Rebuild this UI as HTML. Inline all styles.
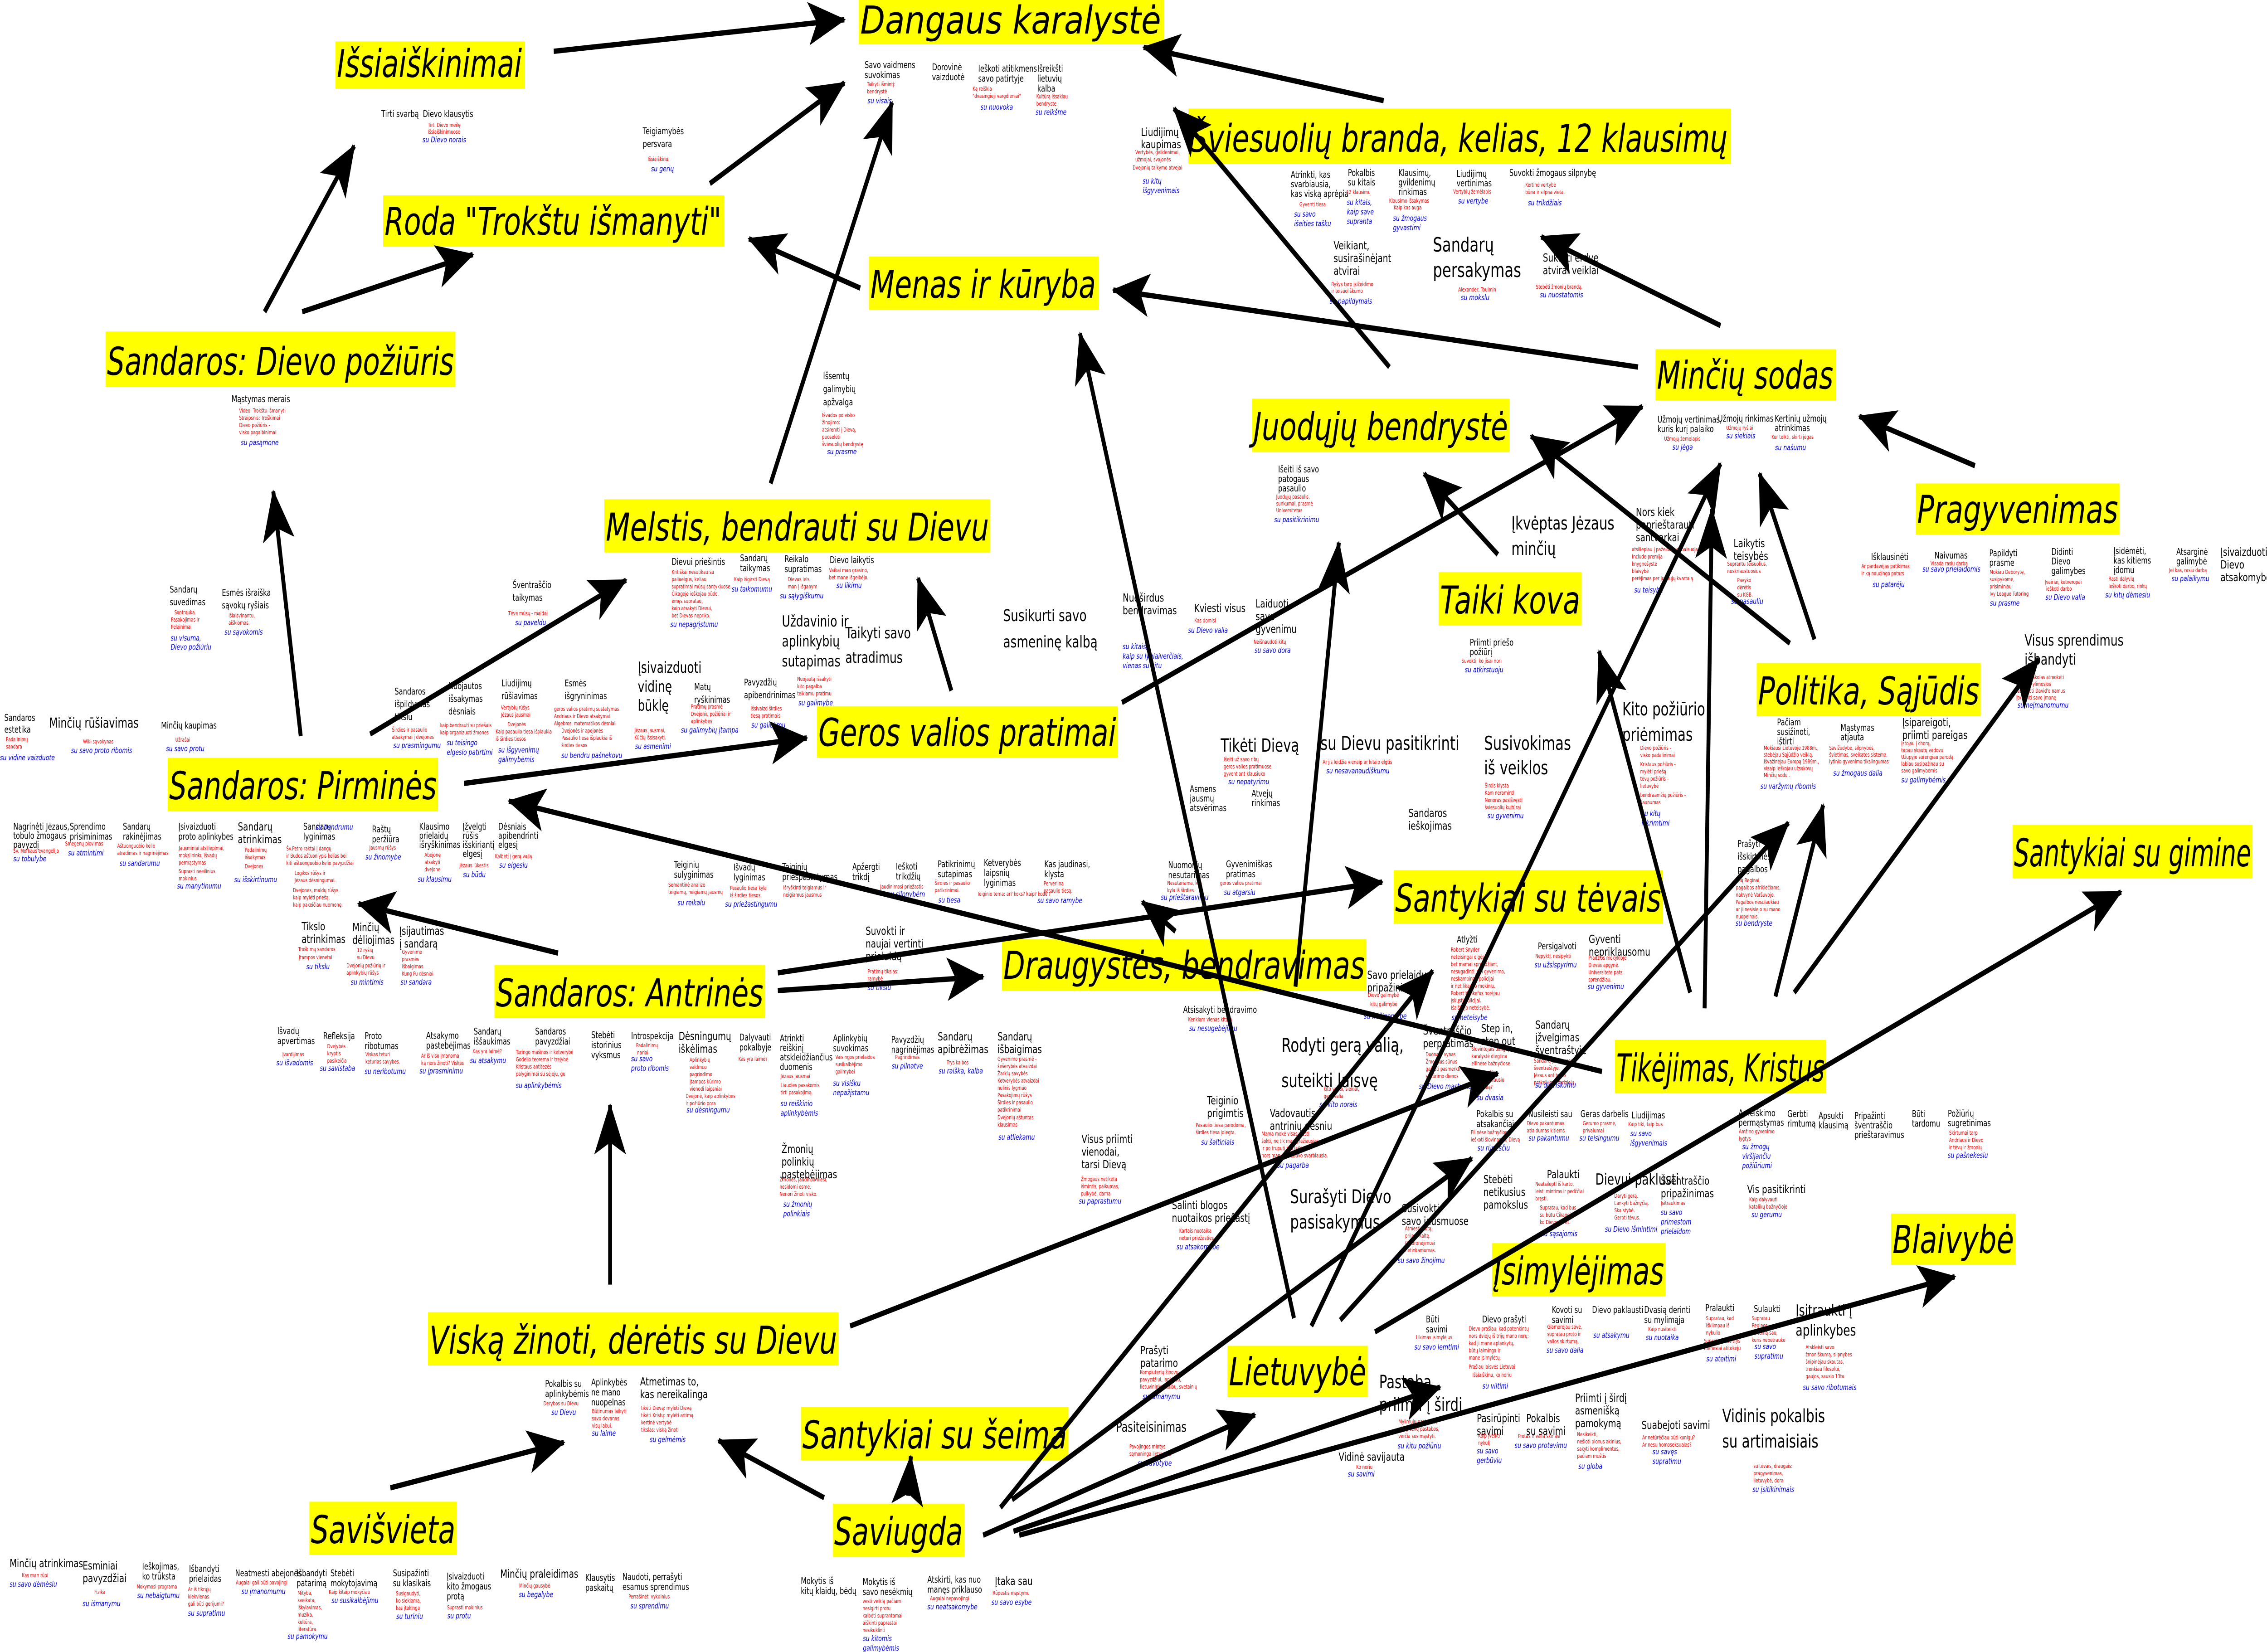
<!DOCTYPE html>
<html><head><meta charset="utf-8">
<style>
html,body{margin:0;padding:0;background:#fff;width:100%;height:100%;overflow:hidden}
svg{display:block;width:100vw;height:100vh}
text{font-family:"DejaVu Sans","Liberation Sans",sans-serif}
.b{font-size:20px;fill:#000}
.m{font-size:25px;fill:#000}
.L{font-size:40px;fill:#000}
.r{font-size:12px;fill:#f00}
.u{font-size:17px;fill:#00f;font-style:italic}
</style></head><body>
<svg viewBox="0 0 6825 3644" preserveAspectRatio="none" xmlns="http://www.w3.org/2000/svg">
<rect width="6825" height="3644" fill="#fff"/>

<g>
<text class="b" x="2603" y="150"><tspan>Savo vaidmens</tspan><tspan x="2603" dy="22">suvokimas</tspan></text>
<text class="r" x="2610" y="190"><tspan>Taikyti išmintį:</tspan><tspan x="2610" dy="16">bendrystė</tspan></text>
<text class="u" x="2612" y="228">su visais</text>
<text class="b" x="2806" y="155"><tspan>Dorovinė</tspan><tspan x="2806" dy="22">vaizduotė</tspan></text>
<text class="b" x="2945" y="158"><tspan>Ieškoti atitikmens</tspan><tspan x="2945" dy="22">savo patirtyje</tspan></text>
<text class="r" x="2928" y="200"><tspan>Ką reiškia</tspan><tspan x="2928" dy="16">"dvasingieji vargdieniai"</tspan></text>
<text class="u" x="2952" y="242">su nuovoka</text>
<text class="b" x="3123" y="158"><tspan>Išreikšti</tspan><tspan x="3123" dy="22">lietuvių</tspan><tspan x="3123" dy="22">kalba</tspan></text>
<text class="r" x="3120" y="217"><tspan>Kultūrą išsakiau</tspan><tspan x="3120" dy="16">bendryste.</tspan></text>
<text class="u" x="3118" y="253">su reikšme</text>
<text class="m" x="3435" y="300"><tspan>Liudijimų</tspan><tspan x="3435" dy="27">kaupimas</tspan></text>
<text class="r" x="3418" y="340"><tspan>Vertybės, gvildenimai,</tspan><tspan x="3418" dy="16">užmojai, svajonės</tspan><tspan x="3410" dy="18">Dvejonių taikymo atvejai</tspan></text>
<text class="u" x="3440" y="405"><tspan>su kitų</tspan><tspan x="3440" dy="21">išgyvenimais</tspan></text>

<text class="b" x="1148" y="258">Tirti svarbą</text>
<text class="b" x="1273" y="258">Dievo klausytis</text>
<text class="r" x="1288" y="280"><tspan>Tirti Dievo meilę</tspan><tspan x="1288" dy="15">Išsiaiškinimuose</tspan></text>
<text class="u" x="1272" y="314">su Dievo norais</text>
<text class="b" x="1935" y="296"><tspan>Teigiamybės</tspan><tspan x="1935" dy="28">persvara</tspan></text>
<text class="r" x="1950" y="355">Išsiaiškinu.</text>
<text class="u" x="1960" y="378">su gerių</text>
<text class="b" x="697" y="887">Mąstymas merais</text>
<text class="r" x="720" y="910"><tspan>Video: Trokštu išmanyti</tspan><tspan x="720" dy="16">Straipsnis: Troškimai</tspan><tspan x="720" dy="16">Dievo požiūris -</tspan><tspan x="720" dy="16">visko pagalbinimai</tspan></text>
<text class="u" x="725" y="982">su pasąmone</text>
<text class="b" x="2478" y="836"><tspan>Išsemtų</tspan><tspan x="2478" dy="29">galimybių</tspan><tspan x="2478" dy="29">apžvalga</tspan></text>
<text class="r" x="2475" y="920"><tspan>Išvados po visko</tspan><tspan x="2475" dy="16">žinojimo:</tspan><tspan x="2475" dy="16">atsiremti į Dievą,</tspan><tspan x="2475" dy="16">puoselėti</tspan><tspan x="2475" dy="16">šviesuolių bendrystę</tspan></text>
<text class="u" x="2490" y="1002">su prasme</text>

<text class="b" x="511" y="1307"><tspan>Sandarų</tspan><tspan x="511" dy="28">suvedimas</tspan></text>
<text class="r" x="525" y="1355"><tspan>Santrauka</tspan><tspan x="515" dy="16">Pasakojimas ir</tspan><tspan x="515" dy="16">Pelainimai</tspan></text>
<text class="u" x="514" y="1413"><tspan>su visuma,</tspan><tspan x="514" dy="20">Dievo požiūriu</tspan></text>
<text class="b" x="668" y="1314"><tspan>Esmės išraiška</tspan><tspan x="668" dy="28">sąvokų ryšiais</tspan></text>
<text class="r" x="688" y="1362"><tspan>Išlaisvinantu,</tspan><tspan x="688" dy="16">aiškiomas.</tspan></text>
<text class="u" x="676" y="1400">su sąvokomis</text>
<text class="b" x="1543" y="1297"><tspan>Šventraščio</tspan><tspan x="1543" dy="28">taikymas</tspan></text>
<text class="r" x="1530" y="1357">Tėve mūsų - maldai</text>
<text class="u" x="1551" y="1379">su paveldu</text>
<text class="b" x="2022" y="1246">Dievui priešintis</text>
<text class="r" x="2022" y="1266"><tspan>Kritiškai nesutikau su</tspan><tspan x="2022" dy="16">paliaeigus, kėliau</tspan><tspan x="2022" dy="16">supratimai mūsų santykiuose.</tspan><tspan x="2022" dy="16">Čikagoje ieškojau būdo,</tspan><tspan x="2022" dy="16">ėmęs supratau,</tspan><tspan x="2022" dy="16">kaip atsakyti Dievui,</tspan><tspan x="2022" dy="16">bet Dievas nepriko.</tspan></text>
<text class="u" x="2018" y="1383">su nepagrįstumu</text>
<text class="b" x="2228" y="1238"><tspan>Sandarų</tspan><tspan x="2228" dy="22">taikymas</tspan></text>
<text class="r" x="2210" y="1282">Kaip išgirsti Dievą</text>
<text class="u" x="2203" y="1305">su taikomumu</text>
<text class="b" x="2362" y="1240"><tspan>Reikalo</tspan><tspan x="2362" dy="22">supratimas</tspan></text>
<text class="r" x="2372" y="1282"><tspan>Dievas iels</tspan><tspan x="2372" dy="16">man į išganym</tspan></text>
<text class="u" x="2348" y="1320">su sąlygiškumu</text>
<text class="b" x="2498" y="1242">Dievo laikytis</text>
<text class="r" x="2496" y="1262"><tspan>Vaikai man grasino,</tspan><tspan x="2496" dy="16">bet mane išgelbėjo.</tspan></text>
<text class="u" x="2518" y="1297">su likimu</text>
<text class="L" x="2354" y="1382" style="font-size:34px"><tspan>Uždavinio ir</tspan><tspan x="2354" dy="44">aplinkybių</tspan><tspan x="2354" dy="44">sutapimas</tspan></text>
<text class="L" x="2545" y="1408" style="font-size:34px"><tspan>Taikyti savo</tspan><tspan x="2545" dy="54">atradimus</tspan></text>
<text class="L" x="3020" y="1370" style="font-size:36px"><tspan>Susikurti savo</tspan><tspan x="3020" dy="58">asmeninę kalbą</tspan></text>
<text class="L" x="1920" y="1484" style="font-size:34px"><tspan>Įsivaizduoti</tspan><tspan x="1920" dy="42">vidinę</tspan><tspan x="1920" dy="42">būklę</tspan></text>
<text class="r" x="1910" y="1615"><tspan>Jėzaus jausmai,</tspan><tspan x="1910" dy="16">Kūčių išsisakyti.</tspan></text>
<text class="u" x="1912" y="1652">su asmenimi</text>
<text class="b" x="2090" y="1522"><tspan>Matų</tspan><tspan x="2090" dy="28">ryškinimas</tspan></text>
<text class="r" x="2080" y="1563"><tspan>Pratimų prasmė</tspan><tspan x="2080" dy="16">Dvejonių požiūriai ir</tspan><tspan x="2080" dy="16">aplinkybės</tspan></text>
<text class="u" x="2050" y="1616">su galimybių įtampa</text>
<text class="b" x="2240" y="1512"><tspan>Pavyzdžių</tspan><tspan x="2240" dy="28">apibendrinimas</tspan></text>
<text class="r" x="2260" y="1567"><tspan>Išsivaizd širdies</tspan><tspan x="2260" dy="16">tiesą pratimais</tspan></text>
<text class="u" x="2262" y="1605">su galiojimu</text>
<text class="r" x="2400" y="1502"><tspan>Nuojautą išsakyti</tspan><tspan x="2400" dy="16">kito pagalba</tspan><tspan x="2400" dy="16">teikiamu pratimu</tspan></text>
<text class="u" x="2404" y="1556">su galimybe</text>

<text class="b" x="13" y="1590"><tspan>Sandaros</tspan><tspan x="13" dy="26">estetika</tspan></text>
<text class="r" x="18" y="1635"><tspan>Padalinimų</tspan><tspan x="18" dy="16">sandara</tspan></text>
<text class="u" x="0" y="1677">su vidine vaizduote</text>
<text class="m" x="148" y="1605" style="font-size:30px">Minčių rūšiavimas</text>
<text class="r" x="250" y="1640">Wiki sąvokynas</text>
<text class="u" x="214" y="1661">su savo proto ribomis</text>
<text class="b" x="485" y="1607">Minčių kaupimas</text>
<text class="r" x="528" y="1636">Užrašai</text>
<text class="u" x="500" y="1657">su savo protu</text>
<text class="b" x="1188" y="1532"><tspan>Sandaros</tspan><tspan x="1188" dy="28">išpildymas</tspan><tspan x="1188" dy="28">tikslu</tspan></text>
<text class="r" x="1180" y="1614"><tspan>Širdies ir pasaulio</tspan><tspan x="1180" dy="16">atsakymai į dvejones</tspan></text>
<text class="u" x="1184" y="1650">su prasmingumu</text>
<text class="b" x="1350" y="1520"><tspan>Nuojautos</tspan><tspan x="1350" dy="28">išsakymas</tspan><tspan x="1350" dy="28">dėsniais</tspan></text>
<text class="r" x="1325" y="1604"><tspan>kaip bendrauti su priešais</tspan><tspan x="1325" dy="16">kaip organizuoti žmones</tspan></text>
<text class="u" x="1345" y="1644"><tspan>su teisingo</tspan><tspan x="1345" dy="21">elgesio patirtimi</tspan></text>
<text class="b" x="1510" y="1514"><tspan>Liudijimų</tspan><tspan x="1510" dy="28">rūšiavimas</tspan></text>
<text class="r" x="1508" y="1565"><tspan>Vertybių rūšys</tspan><tspan x="1508" dy="16">Jėzaus jausmai</tspan><tspan x="1528" dy="21">Dvejonės</tspan><tspan x="1492" dy="16">Kaip pasaulio tiesa išplaukia</tspan><tspan x="1492" dy="16">iš širdies tiesos</tspan></text>
<text class="u" x="1500" y="1660"><tspan>su išgyvenimų</tspan><tspan x="1500" dy="21">galimybėmis</tspan></text>
<text class="b" x="1700" y="1514"><tspan>Esmės</tspan><tspan x="1700" dy="28">išgryninimas</tspan></text>
<text class="r" x="1668" y="1568"><tspan>geros valios pratimų sustatymas</tspan><tspan x="1668" dy="16">Andriaus ir Dievo atsakymai</tspan><tspan x="1668" dy="16">Algebros, matematikos dėsniai</tspan><tspan x="1690" dy="16">Dvejonės ir apejonės</tspan><tspan x="1690" dy="16">Pasaulio tiesa išplaukia iš</tspan><tspan x="1690" dy="16">širdies tiesos</tspan></text>
<text class="u" x="1690" y="1672">su bendru pašnekovu</text>

<text class="b" x="40" y="1830"><tspan>Nagrinėti Jėzaus,</tspan><tspan x="40" dy="20">tobulo žmogaus</tspan><tspan x="40" dy="20">pavyzdį</tspan></text>
<text class="r" x="40" y="1881">Šv. Morkaus evangelija</text>
<text class="u" x="40" y="1900">su tobulybe</text>
<text class="b" x="210" y="1830"><tspan>Sprendimo</tspan><tspan x="210" dy="22">prisiminimas</tspan></text>
<text class="r" x="196" y="1865">Smegenų plovimas</text>
<text class="u" x="205" y="1887">su atmintimi</text>
<text class="b" x="370" y="1830"><tspan>Sandarų</tspan><tspan x="370" dy="22">rakinėjimas</tspan></text>
<text class="r" x="353" y="1870"><tspan>Aštuonguobio kelio</tspan><tspan x="353" dy="16">atradimas ir nagrinėjimas</tspan></text>
<text class="u" x="360" y="1910">su sandarumu</text>
<text class="b" x="537" y="1830"><tspan>Įsivaizduoti</tspan><tspan x="537" dy="22">proto aplinkybes</tspan></text>
<text class="r" x="538" y="1875"><tspan>Jausminiai atsiliepimai,</tspan><tspan x="538" dy="16">mokslininkų išvadų</tspan><tspan x="538" dy="16">permąstymas</tspan><tspan x="538" dy="19">Suprasti neeilinius</tspan><tspan x="538" dy="16">mokinius</tspan></text>
<text class="u" x="533" y="1960">su manytinumu</text>
<text class="m" x="716" y="1832"><tspan>Sandarų</tspan><tspan x="716" dy="28">atrinkimas</tspan></text>
<text class="r" x="737" y="1879"><tspan>Padalinimų</tspan><tspan x="737" dy="16">išsakymas</tspan><tspan x="737" dy="20">Dvejonės</tspan></text>
<text class="u" x="705" y="1946">su išskirtinumu</text>
<text class="b" x="913" y="1830"><tspan>Sandarų</tspan><tspan x="913" dy="22">lyginimas</tspan></text>
<text class="u" x="950" y="1830">su bendrumu</text>
<text class="r" x="862" y="1876"><tspan>Šv.Petro raktai į dangų</tspan><tspan x="862" dy="16">ir Budos aštuonlypis kelias bei</tspan><tspan x="862" dy="16">kiti aštuonguobio kelio pavyzdžiai</tspan><tspan x="887" dy="22">Logikos rūšys ir</tspan><tspan x="887" dy="16">Jėzaus dėsningumai.</tspan><tspan x="882" dy="22">Dvejonės, maldų rūšys,</tspan><tspan x="882" dy="16">kaip mylėti priešą,</tspan><tspan x="882" dy="16">kaip pakeičiau nuomonę.</tspan></text>
<text class="b" x="1120" y="1836"><tspan>Raštų</tspan><tspan x="1120" dy="22">peržiūra</tspan></text>
<text class="r" x="1112" y="1874">Jausmų rūšys</text>
<text class="u" x="1100" y="1896">su žinomybe</text>
<text class="b" x="1262" y="1830"><tspan>Klausimo</tspan><tspan x="1262" dy="20">prielaidų</tspan><tspan x="1262" dy="20">išryškinimas</tspan></text>
<text class="r" x="1278" y="1890"><tspan>Abejonę</tspan><tspan x="1278" dy="16">atsakyti</tspan><tspan x="1278" dy="16">dvejone</tspan></text>
<text class="u" x="1258" y="1945">su klausimu</text>
<text class="b" x="1393" y="1830"><tspan>Įžvelgti</tspan><tspan x="1393" dy="20">rūšis</tspan><tspan x="1393" dy="20">išskiriantį</tspan><tspan x="1393" dy="20">elgesį</tspan></text>
<text class="r" x="1383" y="1913">Jėzaus lūkestis</text>
<text class="u" x="1394" y="1935">su būdu</text>
<text class="b" x="1500" y="1830"><tspan>Dėsniais</tspan><tspan x="1500" dy="20">apibendrinti</tspan><tspan x="1500" dy="20">elgesį</tspan></text>
<text class="r" x="1490" y="1893">Kalbėti į gerą valią</text>
<text class="u" x="1503" y="1914">su elgesiu</text>
<text class="m" x="908" y="2052"><tspan>Tikslo</tspan><tspan x="908" dy="28">atrinkimas</tspan></text>
<text class="r" x="898" y="2098"><tspan>Troškimų sandaros</tspan><tspan x="900" dy="18">Įtampos vienetai</tspan></text>
<text class="u" x="922" y="2138">su tikslu</text>
<text class="m" x="1061" y="2054"><tspan>Minčių</tspan><tspan x="1061" dy="28">dėliojimas</tspan></text>
<text class="r" x="1075" y="2100"><tspan>12 ryšių</tspan><tspan x="1075" dy="16">su Dievu</tspan><tspan x="1043" dy="18">Dvejonių požiūrių ir</tspan><tspan x="1043" dy="16">aplinkybių rūšys</tspan></text>
<text class="u" x="1056" y="2172">su mintimis</text>
<text class="m" x="1202" y="2062"><tspan>Įsijautimas</tspan><tspan x="1202" dy="28">į sandarą</tspan></text>
<text class="r" x="1210" y="2104"><tspan>Gyvenimo</tspan><tspan x="1210" dy="16">prasmės</tspan><tspan x="1210" dy="16">išbaigimas</tspan><tspan x="1210" dy="16">Kung Fu dėsniai</tspan></text>
<text class="u" x="1206" y="2172">su sandara</text>

<text class="b" x="835" y="2281"><tspan>Išvadų</tspan><tspan x="835" dy="22">apvertimas</tspan></text>
<text class="r" x="850" y="2330">Įvardijimas</text>
<text class="u" x="832" y="2350">su išvadomis</text>
<text class="b" x="973" y="2292">Refleksija</text>
<text class="r" x="985" y="2312"><tspan>Dvejybės</tspan><tspan x="985" dy="16">kryptis</tspan><tspan x="985" dy="16">pasikeičia</tspan></text>
<text class="u" x="963" y="2362">su savistaba</text>
<text class="b" x="1098" y="2292"><tspan>Proto</tspan><tspan x="1098" dy="22">ribotumas</tspan></text>
<text class="r" x="1100" y="2330"><tspan>Viskas teturi</tspan><tspan x="1100" dy="16">keturias savybes.</tspan></text>
<text class="u" x="1098" y="2369">su neribotumu</text>
<text class="b" x="1283" y="2291"><tspan>Atsakymo</tspan><tspan x="1283" dy="22">pastebėjimas</tspan></text>
<text class="r" x="1268" y="2333"><tspan>Ar iš viso įmanoma</tspan><tspan x="1268" dy="16">ką nors žinoti? Viskas</tspan></text>
<text class="u" x="1263" y="2368">su įprasminimu</text>
<text class="b" x="1426" y="2282"><tspan>Sandarų</tspan><tspan x="1426" dy="22">iššaukimas</tspan></text>
<text class="r" x="1423" y="2323">Kas yra laimė?</text>
<text class="u" x="1415" y="2345">su atsakymu</text>
<text class="b" x="1611" y="2282"><tspan>Sandaros</tspan><tspan x="1611" dy="22">pavyzdžiai</tspan></text>
<text class="r" x="1553" y="2325"><tspan>Turingo mašinos ir ketverybė</tspan><tspan x="1553" dy="16">Godelio teorema ir trejybė</tspan><tspan x="1553" dy="16">Kristaus antitezės</tspan><tspan x="1553" dy="16">palyginimai su sėjėju, gu</tspan></text>
<text class="u" x="1553" y="2400">su aplinkybėmis</text>

<text class="b" x="1780" y="2290"><tspan>Stebėti</tspan><tspan x="1780" dy="22">istorinius</tspan><tspan x="1780" dy="22">vyksmus</tspan></text>
<text class="b" x="1900" y="2292">Introspekcija</text>
<text class="r" x="1915" y="2310"><tspan>Padalinimų</tspan><tspan x="1918" dy="16">nariai</tspan></text>
<text class="u" x="1900" y="2341"><tspan>su  savo</tspan><tspan x="1900" dy="21">proto ribomis</tspan></text>
<text class="m" x="2043" y="2294"><tspan>Dėsningumų</tspan><tspan x="2043" dy="28">iškėlimas</tspan></text>
<text class="r" x="2076" y="2342"><tspan>Aplinkybių</tspan><tspan x="2076" dy="16">valdmuo</tspan><tspan x="2076" dy="16">pagrindimo</tspan><tspan x="2076" dy="16">įtampos kūrimo</tspan><tspan x="2076" dy="16">vienodi laipsniai</tspan><tspan x="2064" dy="16">Dvėjonė, kaip aplinkybės</tspan><tspan x="2064" dy="16">ir požiūrio pora</tspan></text>
<text class="u" x="2067" y="2454">su dėsningumu</text>
<text class="b" x="2226" y="2295"><tspan>Dalyvauti</tspan><tspan x="2226" dy="22">pokalbyje</tspan></text>
<text class="r" x="2223" y="2340">Kas yra laimė?</text>
<text class="b" x="2348" y="2297"><tspan>Atrinkti</tspan><tspan x="2348" dy="21">reiškinį</tspan><tspan x="2348" dy="21">atskleidžiančius</tspan><tspan x="2348" dy="21">duomenis</tspan></text>
<text class="r" x="2350" y="2378"><tspan>Jėzaus jausmai</tspan><tspan x="2350" dy="20">Liaudies pasakomis</tspan><tspan x="2350" dy="16">tirti pasakojimą.</tspan></text>
<text class="u" x="2350" y="2440"><tspan>su reiškinio</tspan><tspan x="2350" dy="21">aplinkybėmis</tspan></text>
<text class="b" x="2508" y="2297"><tspan>Aplinkybių</tspan><tspan x="2508" dy="22">suvokimas</tspan></text>
<text class="r" x="2515" y="2336"><tspan>Vaisingos prielaidos</tspan><tspan x="2515" dy="16">susikalbėjimo</tspan><tspan x="2515" dy="16">galimybei</tspan></text>
<text class="u" x="2508" y="2395"><tspan>su visišku</tspan><tspan x="2508" dy="21">nepažįstamu</tspan></text>
<text class="b" x="2683" y="2300"><tspan>Pavyzdžių</tspan><tspan x="2683" dy="22">nagrinėjimas</tspan></text>
<text class="r" x="2695" y="2336">Pagrindimas</text>
<text class="u" x="2685" y="2357">su pilnatve</text>
<text class="m" x="2823" y="2295"><tspan>Sandarų</tspan><tspan x="2823" dy="28">apibrėžimas</tspan></text>
<text class="r" x="2850" y="2348">Trys kalbos</text>
<text class="u" x="2826" y="2368">su raiška, kalba</text>
<text class="m" x="3003" y="2295"><tspan>Sandarų</tspan><tspan x="3003" dy="28">išbaigimas</tspan></text>
<text class="r" x="3003" y="2340"><tspan>Gyvenimo prasmė -</tspan><tspan x="3003" dy="16">šešerybės atvaizdai</tspan><tspan x="3003" dy="16">Žarklų savybės</tspan><tspan x="3003" dy="16">Ketverybės atvaizdai</tspan><tspan x="3003" dy="16">nulinis lygmuo</tspan><tspan x="3003" dy="16">Pasakojimų rūšys</tspan><tspan x="3003" dy="16">Širdies ir pasaulio</tspan><tspan x="3003" dy="16">patikrinimai</tspan><tspan x="3003" dy="17">Dvejonių aštuntas</tspan><tspan x="3003" dy="16">klausimas</tspan></text>
<text class="u" x="3006" y="2514">su atliekamu</text>
<text class="m" x="2353" y="2543"><tspan>Žmonių</tspan><tspan x="2353" dy="28">polinkių</tspan><tspan x="2353" dy="28">pastebėjimas</tspan></text>
<text class="r" x="2347" y="2606"><tspan>Žmonės, jaudindamiesi,</tspan><tspan x="2347" dy="16">nesidomi esme.</tspan><tspan x="2347" dy="16">Nenori žinoti visko.</tspan></text>
<text class="u" x="2358" y="2662"><tspan>su žmonių</tspan><tspan x="2358" dy="21">polinkiais</tspan></text>

<text class="b" x="2029" y="1914"><tspan>Teiginių</tspan><tspan x="2029" dy="22">sulyginimas</tspan></text>
<text class="r" x="2012" y="1956"><tspan>Semantinė analizė</tspan><tspan x="2012" dy="16">teigiamų, neigiamų jausmų</tspan></text>
<text class="u" x="2040" y="1997">su reikalu</text>
<text class="b" x="2208" y="1920"><tspan>Išvadų</tspan><tspan x="2208" dy="22">lyginimas</tspan></text>
<text class="r" x="2198" y="1963"><tspan>Pasaulio tiesa kyla</tspan><tspan x="2198" dy="16">iš širdies tiesos</tspan></text>
<text class="u" x="2183" y="2000">su priežastingumu</text>
<text class="b" x="2355" y="1919"><tspan>Teiginių</tspan><tspan x="2355" dy="22">priespastatymas</tspan></text>
<text class="r" x="2358" y="1962"><tspan>Išryškinti teigiamus ir</tspan><tspan x="2358" dy="16">neigiamus jausmus</tspan></text>
<text class="b" x="2566" y="1919"><tspan>Apžergti</tspan><tspan x="2566" dy="22">trikdį</tspan></text>
<text class="b" x="2697" y="1918"><tspan>Ieškoti</tspan><tspan x="2697" dy="22">trikdžių</tspan></text>
<text class="r" x="2650" y="1960">Jaudinimosi priežastis</text>
<text class="u" x="2672" y="1978">su silpnybėm</text>
<text class="b" x="2823" y="1913"><tspan>Patikrinimų</tspan><tspan x="2823" dy="22">sutapimas</tspan></text>
<text class="r" x="2814" y="1952"><tspan>Širdies ir pasaulio</tspan><tspan x="2814" dy="16">patikrinimai.</tspan></text>
<text class="u" x="2825" y="1991">su tiesa</text>
<text class="b" x="2962" y="1910"><tspan>Ketverybės</tspan><tspan x="2962" dy="22">laipsnių</tspan><tspan x="2962" dy="22">lyginimas</tspan></text>
<text class="r" x="2942" y="1976">Teiginio tema: ar? koks? kaip? kodėl?</text>
<text class="b" x="3144" y="1913"><tspan>Kas jaudinasi,</tspan><tspan x="3144" dy="22">klysta</tspan></text>
<text class="r" x="3142" y="1953"><tspan>Perverlina</tspan><tspan x="3142" dy="16">pasaulio tiesą.</tspan></text>
<text class="u" x="3123" y="1992">su savo ramybe</text>
<text class="m" x="2606" y="2062"><tspan>Suvokti ir</tspan><tspan x="2606" dy="28">naujai vertinti</tspan><tspan x="2606" dy="28">prielaidą</tspan></text>
<text class="r" x="2612" y="2147"><tspan>Pratimų tikslas:</tspan><tspan x="2612" dy="16">ramybė</tspan></text>
<text class="u" x="2612" y="2184">su tikslu</text>
<text class="m" x="3256" y="2521"><tspan>Visus priimti</tspan><tspan x="3256" dy="28">vienodai,</tspan><tspan x="3256" dy="28">tarsi Dievą</tspan></text>
<text class="r" x="3254" y="2605"><tspan>Žmogaus netikėta</tspan><tspan x="3254" dy="16">išmintis, paikumas,</tspan><tspan x="3254" dy="16">puikybė, darna</tspan></text>
<text class="u" x="3248" y="2655">su paprastumu</text>

<text class="b" x="1641" y="3059"><tspan>Pokalbis su</tspan><tspan x="1641" dy="22">aplinkybėmis</tspan></text>
<text class="r" x="1636" y="3100">Derybos su Dievu</text>
<text class="u" x="1660" y="3121">su Dievu</text>
<text class="b" x="1780" y="3056"><tspan>Aplinkybės</tspan><tspan x="1780" dy="22">ne mano</tspan><tspan x="1780" dy="22">nuopelnas</tspan></text>
<text class="r" x="1782" y="3117"><tspan>Būtinumas laikyti</tspan><tspan x="1782" dy="16">savo dovanas</tspan><tspan x="1782" dy="16">visų labui.</tspan></text>
<text class="u" x="1782" y="3167">su laime</text>
<text class="m" x="1927" y="3056"><tspan>Atmetimas to,</tspan><tspan x="1927" dy="28">kas nereikalinga</tspan></text>
<text class="r" x="1930" y="3110"><tspan>tikėti Dievą: mylėti Dievą</tspan><tspan x="1930" dy="16">tikėti Kristų: mylėti artimą</tspan><tspan x="1930" dy="16">kertinė vertybė</tspan><tspan x="1930" dy="16">tikslas: viską žinoti</tspan></text>
<text class="u" x="1956" y="3181">su gelmėmis</text>

<text class="m" x="29" y="3457">Minčių atrinkimas</text>
<text class="r" x="66" y="3479">Kas man rūpi</text>
<text class="u" x="29" y="3500">su savo dėmėsiu</text>
<text class="m" x="249" y="3462"><tspan>Esminiai</tspan><tspan x="249" dy="28">pavyzdžiai</tspan></text>
<text class="r" x="284" y="3516">Fizika</text>
<text class="u" x="249" y="3543">su išmanymu</text>
<text class="b" x="428" y="3462"><tspan>Ieškojimas,</tspan><tspan x="428" dy="22">ko trūksta</tspan></text>
<text class="r" x="411" y="3504">Mokymosi programa</text>
<text class="u" x="413" y="3525">su nebaigtumu</text>
<text class="b" x="569" y="3467"><tspan>Išbandyti</tspan><tspan x="569" dy="22">prielaidas</tspan></text>
<text class="r" x="566" y="3510"><tspan>Ar iš tikrųjų</tspan><tspan x="566" dy="16">kiekvienas</tspan><tspan x="566" dy="16">gali būti gerijumi?</tspan></text>
<text class="u" x="566" y="3564">su supratimu</text>
<text class="b" x="708" y="3477">Neatmesti abejonės</text>
<text class="r" x="710" y="3495">Augalai gali būti pavojingi</text>
<text class="u" x="727" y="3516">su įmanomumu</text>
<text class="b" x="893" y="3477"><tspan>Išbandyti</tspan><tspan x="893" dy="22">patarimą</tspan></text>
<text class="r" x="896" y="3518"><tspan>Mityba,</tspan><tspan x="896" dy="16">sveikata,</tspan><tspan x="896" dy="16">iškylavimas,</tspan><tspan x="896" dy="16">muzika,</tspan><tspan x="896" dy="16">kultūra,</tspan><tspan x="896" dy="16">literatūra</tspan></text>
<text class="u" x="866" y="3615">su pamokymu</text>
<text class="b" x="995" y="3477"><tspan>Stebėti</tspan><tspan x="995" dy="22">mokytojavimą</tspan></text>
<text class="r" x="990" y="3516">Kaip kitaip mokyčiau</text>
<text class="u" x="998" y="3536">su susikalbėjimu</text>
<text class="b" x="1183" y="3477"><tspan>Susipažinti</tspan><tspan x="1183" dy="22">su klasikais</tspan></text>
<text class="r" x="1192" y="3519"><tspan>Susigaudyti,</tspan><tspan x="1192" dy="16">ko siekiama,</tspan><tspan x="1192" dy="16">kas įtakinga</tspan></text>
<text class="u" x="1193" y="3571">su turiniu</text>
<text class="b" x="1345" y="3484"><tspan>Įsivaizduoti</tspan><tspan x="1345" dy="22">kito žmogaus</tspan><tspan x="1345" dy="22">protą</tspan></text>
<text class="r" x="1346" y="3550">Suprasti mokinius</text>
<text class="u" x="1347" y="3570">su protu</text>
<text class="m" x="1506" y="3480">Minčių praleidimas</text>
<text class="r" x="1563" y="3502">Minčių gausybė</text>
<text class="u" x="1562" y="3523">su begalybe</text>
<text class="b" x="1762" y="3487"><tspan>Klausytis</tspan><tspan x="1762" dy="22">paskaitų</tspan></text>
<text class="b" x="1874" y="3485"><tspan>Naudoti, perrašyti</tspan><tspan x="1874" dy="22">esamus sprendimus</tspan></text>
<text class="r" x="1892" y="3526">Perrašinėti vykdinius</text>
<text class="u" x="1898" y="3548">su sprendimu</text>
<text class="b" x="2411" y="3494"><tspan>Mokytis iš</tspan><tspan x="2411" dy="22">kitų klaidų, bėdų</tspan></text>
<text class="b" x="2597" y="3496"><tspan>Mokytis iš</tspan><tspan x="2597" dy="22">savo nesėkmių</tspan></text>
<text class="r" x="2597" y="3536"><tspan>vesti veiklą pačiam</tspan><tspan x="2597" dy="16">nesigirti protu</tspan><tspan x="2597" dy="16">kalbėti suprantamai</tspan><tspan x="2597" dy="16">aiškinti paprastai</tspan><tspan x="2597" dy="16">nesikuklinti</tspan></text>
<text class="u" x="2598" y="3620"><tspan>su kitomis</tspan><tspan x="2598" dy="21">galimybėmis</tspan></text>
<text class="b" x="2792" y="3491"><tspan>Atskirti, kas nuo</tspan><tspan x="2792" dy="22">manęs priklauso</tspan></text>
<text class="r" x="2800" y="3530">Augalai nepavojingi</text>
<text class="u" x="2792" y="3550">su neatsakomybe</text>
<text class="m" x="2995" y="3496">Įtaka sau</text>
<text class="r" x="2988" y="3518">Rūpestis mąstymu</text>
<text class="u" x="2985" y="3540">su savo esybe</text>

<text class="b" x="3517" y="1915"><tspan>Nuomonių</tspan><tspan x="3517" dy="22">nesutarimas</tspan></text>
<text class="r" x="3514" y="1952"><tspan>Nesutariama, kas</tspan><tspan x="3514" dy="16">kyla iš širdies</tspan></text>
<text class="u" x="3495" y="1985">su prieštaravimu</text>
<text class="b" x="3691" y="1913"><tspan>Gyvenimiškas</tspan><tspan x="3691" dy="22">pratimas</tspan></text>
<text class="r" x="3673" y="1952">geros valios pratimai</text>
<text class="u" x="3685" y="1974">su atgarsiu</text>
<text class="b" x="3562" y="2234">Atsisakyti bendravimo</text>
<text class="r" x="3577" y="2253">Kenkiam vienas kitam</text>
<text class="u" x="3580" y="2274">su nesugebėjimu</text>
<text class="m" x="4116" y="2159"><tspan>Savo prielaidų</tspan><tspan x="4116" dy="28">pripažinimas</tspan></text>
<text class="r" x="4118" y="2199"><tspan>Dievo galimybė</tspan><tspan x="4125" dy="20">kitų galimybė</tspan></text>
<text class="u" x="4106" y="2247">su nežinomybe</text>
<text class="L" x="3858" y="2320" style="font-size:42px"><tspan>Rodyti gerą valią,</tspan><tspan x="3858" dy="78">suteikti laisvę</tspan></text>
<text class="r" x="3985" y="2406"><tspan>kito valiai, siekiai,</tspan><tspan x="3985" dy="16">gera valia</tspan></text>
<text class="u" x="3972" y="2442">su kito norais</text>
<text class="m" x="3634" y="2436"><tspan>Teiginio</tspan><tspan x="3634" dy="28">prigimtis</tspan></text>
<text class="r" x="3600" y="2486"><tspan>Pasaulio tiesa parodoma,</tspan><tspan x="3600" dy="16">širdies tiesa įdiegta.</tspan></text>
<text class="u" x="3616" y="2525">su šaltiniais</text>
<text class="m" x="3823" y="2464"><tspan>Vadovautis</tspan><tspan x="3823" dy="28">antrinių dėsniu</tspan></text>
<text class="r" x="3798" y="2505"><tspan>Mama mokė visas viešti</tspan><tspan x="3798" dy="16">šokti, ne tik man gražiausias,</tspan><tspan x="3798" dy="16">ir po truputį tuo laikiausi,</tspan><tspan x="3798" dy="16">nors man tai nebuvo svarbiausia.</tspan></text>
<text class="u" x="3845" y="2576">su pagarba</text>
<text class="L" x="3884" y="2654" style="font-size:42px"><tspan>Surašyti Dievo</tspan><tspan x="3884" dy="56">pasisakymus</tspan></text>
<text class="m" x="3528" y="2667"><tspan>Šalinti blogos</tspan><tspan x="3528" dy="28">nuotaikos priežastį</tspan></text>
<text class="r" x="3550" y="2719"><tspan>Kartais nuotaika</tspan><tspan x="3550" dy="16">neturi priežasties</tspan></text>
<text class="u" x="3542" y="2756">su atsakomybe</text>
<text class="m" x="4220" y="2674"><tspan>Susivokti</tspan><tspan x="4220" dy="28">savo jausmuose</tspan></text>
<text class="r" x="4230" y="2714"><tspan>Atmesti kaltą,</tspan><tspan x="4230" dy="16">priimti kaltę.</tspan><tspan x="4230" dy="16">Giedronėjimosi</tspan><tspan x="4230" dy="16">netinkamumas.</tspan></text>
<text class="u" x="4208" y="2786">su savo žinojimu</text>
<text class="m" x="3433" y="2987"><tspan>Prašyti</tspan><tspan x="3433" dy="28">patarimo</tspan></text>
<text class="r" x="3432" y="3031"><tspan>Kompiuterių žinovų,</tspan><tspan x="3432" dy="16">pavyzdžiui, lankikso,</tspan><tspan x="3432" dy="16">lietuvininkų, kalbų, svetainių</tspan></text>
<text class="u" x="3440" y="3086">su išmanymu</text>
<text class="L" x="3360" y="3158" style="font-size:30px">Pasiteisinimas</text>
<text class="r" x="3400" y="3195"><tspan>Pavojingos mintys</tspan><tspan x="3400" dy="16">sąmoninga lietuvybė</tspan></text>
<text class="u" x="3425" y="3233">su savotybe</text>
<text class="L" x="4152" y="3062"><tspan>Pastaba</tspan><tspan x="4152" dy="50">priimti į širdį</tspan></text>
<text class="r" x="4210" y="3140"><tspan>Mylimųjų pastabos,</tspan><tspan x="4210" dy="16">tėvų, tėvų pastabos,</tspan><tspan x="4210" dy="16">verčia susimąstyti.</tspan></text>
<text class="u" x="4208" y="3195">su kitu požiūriu</text>
<text class="m" x="4030" y="3222">Vidinė savijauta</text>
<text class="r" x="4083" y="3240">Ko noriu</text>
<text class="u" x="4058" y="3257">su savimi</text>
<text class="b" x="4293" y="2917"><tspan>Būti</tspan><tspan x="4293" dy="22">savimi</tspan></text>
<text class="r" x="4263" y="2954">Likimas įsimylėjus</text>
<text class="u" x="4258" y="2977">su savo lemtimi</text>
<text class="b" x="4462" y="2917">Dievo prašyti</text>
<text class="r" x="4422" y="2935"><tspan>Dievo prašiau, kad patenkintų</tspan><tspan x="4422" dy="16">nors dviejų iš trijų mano norų:</tspan><tspan x="4422" dy="16">kad ji mane aplankytų,</tspan><tspan x="4422" dy="16">būtų laiminga ir</tspan><tspan x="4422" dy="16">mane įsimylėtų.</tspan><tspan x="4422" dy="20">Prašiau laisvės Lietuvai</tspan><tspan x="4433" dy="18">Išsiaiškinu, ko noriu</tspan></text>
<text class="u" x="4463" y="3063">su viltimi</text>
<text class="b" x="4672" y="2896"><tspan>Kovoti su</tspan><tspan x="4672" dy="22">savimi</tspan></text>
<text class="r" x="4658" y="2931"><tspan>Giamorėjau save,</tspan><tspan x="4658" dy="16">supratau proto ir</tspan><tspan x="4658" dy="16">valios skirtumą.</tspan></text>
<text class="u" x="4656" y="2984">su savo dalia</text>
<text class="b" x="4793" y="2896">Dievo paklausti</text>
<text class="u" x="4797" y="2951">su atsakymu</text>
<text class="b" x="4950" y="2896"><tspan>Dvasią derinti</tspan><tspan x="4950" dy="22">su mylimąja</tspan></text>
<text class="r" x="4962" y="2936">Kaip nusiteikti</text>
<text class="u" x="4955" y="2956">su nuotaika</text>
<text class="m" x="4446" y="3137"><tspan>Pasirūpinti</tspan><tspan x="4446" dy="28">savimi</tspan></text>
<text class="r" x="4450" y="3171"><tspan>Kaip įveikti</tspan><tspan x="4450" dy="16">nykulį</tspan></text>
<text class="u" x="4446" y="3206"><tspan>su savo</tspan><tspan x="4446" dy="21">gerbūviu</tspan></text>
<text class="m" x="4595" y="3137"><tspan>Pokalbis</tspan><tspan x="4595" dy="28">su savimi</tspan></text>
<text class="r" x="4570" y="3172">Protas ir valia skiriasi</text>
<text class="u" x="4560" y="3194">su savo protavimu</text>
<text class="m" x="4742" y="3092"><tspan>Priimti į širdį</tspan><tspan x="4742" dy="28">asmenišką</tspan><tspan x="4742" dy="28">pamokymą</tspan></text>
<text class="r" x="4748" y="3168"><tspan>Nesikeikti,</tspan><tspan x="4748" dy="16">nešioti plonus akinius,</tspan><tspan x="4748" dy="16">sakyti komplimentus,</tspan><tspan x="4748" dy="16">pačiam muštis</tspan></text>
<text class="u" x="4752" y="3240">su globa</text>
<text class="m" x="4942" y="3152">Suabejoti savimi</text>
<text class="r" x="4944" y="3175"><tspan>Ar netūrėčiau būti kunigu?</tspan><tspan x="4944" dy="16">Ar nesu homoseksualas?</tspan></text>
<text class="u" x="4975" y="3208"><tspan>su savęs</tspan><tspan x="4975" dy="21">supratimu</tspan></text>

<text class="m" x="4466" y="2610"><tspan>Stebėti</tspan><tspan x="4466" dy="28">netikusius</tspan><tspan x="4466" dy="28">pamokslus</tspan></text>
<text class="m" x="4657" y="2599">Palaukti</text>
<text class="r" x="4622" y="2616"><tspan>Neatsileptl iš karto,</tspan><tspan x="4622" dy="16">leisti mintims ir pedččiai</tspan><tspan x="4622" dy="16">bręsti.</tspan><tspan x="4636" dy="20">Supratau, kad bus</tspan><tspan x="4636" dy="16">su butu Čikagoje</tspan><tspan x="4636" dy="16">ko Dievo norėt.</tspan></text>
<text class="u" x="4640" y="2727">su sąsajomis</text>
<text class="L" x="4803" y="2613" style="font-size:34px">Dievui paklusti</text>
<text class="r" x="4860" y="2642"><tspan>Daryti gerą.</tspan><tspan x="4860" dy="16">Lankyti bažnyčią.</tspan><tspan x="4860" dy="16">Skaistybė.</tspan><tspan x="4860" dy="16">Gerbti tėvus.</tspan></text>
<text class="u" x="4832" y="2717">su Dievo išmintimi</text>
<text class="b" x="4445" y="2464"><tspan>Pokalbis su</tspan><tspan x="4445" dy="22">atsakančiais</tspan></text>
<text class="r" x="4428" y="2502"><tspan>Ellinėse bažnyčiose</tspan><tspan x="4428" dy="16">ieškoti šlovinančių Dievą</tspan></text>
<text class="u" x="4448" y="2538">su rūpesčiu</text>
<text class="m" x="4622" y="2269"><tspan>Sandarų</tspan><tspan x="4622" dy="28">įžvelgimas</tspan><tspan x="4622" dy="28">šventraštyje</tspan></text>
<text class="r" x="4618" y="2344"><tspan>Sandarų įžvelgimas</tspan><tspan x="4618" dy="16">šventraštyje.</tspan><tspan x="4618" dy="16">Jėzaus antitezės</tspan><tspan x="4618" dy="16">prakeikimai fariziejų</tspan></text>
<text class="u" x="4622" y="2399">su dieviškumu</text>
<text class="m" x="4284" y="2282"><tspan>Šventraščio</tspan><tspan x="4284" dy="28">perpratimas</tspan></text>
<text class="r" x="4292" y="2330"><tspan>Duona ir vynas</tspan><tspan x="4292" dy="16">Žmogaus sūnus</tspan><tspan x="4292" dy="16">galvoti pasmerkti</tspan><tspan x="4292" dy="16">sukūrimo dienos</tspan></text>
<text class="u" x="4272" y="2402">su Dievo mąstymu</text>
<text class="m" x="4459" y="2277"><tspan>Step in,</tspan><tspan x="4459" dy="28">step out</tspan></text>
<text class="r" x="4430" y="2318"><tspan>Šlovintojais danguje</tspan><tspan x="4430" dy="16">karalystė diegtina</tspan><tspan x="4430" dy="16">ellinėse bažnyčiose.</tspan><tspan x="4440" dy="20">Susiruošiu,</tspan><tspan x="4440" dy="16">ar man klausiu</tspan><tspan x="4440" dy="16">neigalią?</tspan></text>
<text class="u" x="4446" y="2427">su dvasia</text>
<text class="b" x="4386" y="2079">Atlyžti</text>
<text class="r" x="4368" y="2099"><tspan>Robert Snyder</tspan><tspan x="4368" dy="16">neteisingai elgėsi,</tspan><tspan x="4368" dy="16">bet mamai sprendžiant,</tspan><tspan x="4368" dy="16">nesugadinti jam gyvenimo,</tspan><tspan x="4368" dy="16">neskambinau policijai</tspan><tspan x="4368" dy="16">ir net likau jo mokiniu.</tspan><tspan x="4368" dy="16">Robert Konkefus norėjau</tspan><tspan x="4368" dy="16">įskųsti policijai.</tspan><tspan x="4368" dy="16">Išaiškėjo neteisybė.</tspan></text>
<text class="u" x="4370" y="2250">su neteisybe</text>
<text class="b" x="4630" y="2094">Persigalvoti</text>
<text class="r" x="4622" y="2113">Nepykti, nesipykti</text>
<text class="u" x="4620" y="2134">su užsispyrimu</text>
<text class="m" x="4783" y="2080"><tspan>Gyventi</tspan><tspan x="4783" dy="28">nepriklausomu</tspan></text>
<text class="r" x="4782" y="2117"><tspan>Pradžios mokykloje</tspan><tspan x="4782" dy="16">Dievas apgynė.</tspan><tspan x="4782" dy="16">Universitete pats</tspan><tspan x="4782" dy="16">sprendžiau.</tspan></text>
<text class="u" x="4780" y="2182">su gyvenimu</text>
<text class="b" x="4601" y="2464">Nusileisti sau</text>
<text class="r" x="4597" y="2482"><tspan>Dievo pakantumas</tspan><tspan x="4597" dy="16">atlaidumas kitiems</tspan></text>
<text class="u" x="4602" y="2516">su pakantumu</text>
<text class="b" x="4758" y="2464">Geras darbelis</text>
<text class="r" x="4765" y="2482"><tspan>Gerumo prasmė,</tspan><tspan x="4765" dy="16">privalumai</tspan></text>
<text class="u" x="4755" y="2516">su teisingumu</text>
<text class="b" x="4912" y="2467">Liudijimas</text>
<text class="r" x="4902" y="2484">Kaip tiki, taip bus</text>
<text class="u" x="4908" y="2506"><tspan>su savo</tspan><tspan x="4908" dy="21">išgyvenimais</tspan></text>

<text class="b" x="5231" y="1868"><tspan>Prašyti</tspan><tspan x="5231" dy="28">išskirtinės</tspan><tspan x="5231" dy="28">pagalbos</tspan></text>
<text class="r" x="5226" y="1946"><tspan>Vilų Reginai,</tspan><tspan x="5226" dy="16">pagalbos afrikiečiams,</tspan><tspan x="5226" dy="16">nakvynė Varšuvoje.</tspan><tspan x="5226" dy="16">Pagalbos nesulaukiau</tspan><tspan x="5226" dy="16">ar ji nesisiejo su mano</tspan><tspan x="5226" dy="16">nuopelnais.</tspan></text>
<text class="u" x="5225" y="2042">su bendryste</text>
<text class="b" x="5234" y="2462"><tspan>Apreiškimo</tspan><tspan x="5234" dy="21">permąstymas</tspan></text>
<text class="r" x="5235" y="2500"><tspan>Amžino gyvenimo</tspan><tspan x="5235" dy="16">lygtys</tspan></text>
<text class="u" x="5245" y="2535"><tspan>su žmogų</tspan><tspan x="5245" dy="21">viršijančiu</tspan><tspan x="5245" dy="21">požiūriumi</tspan></text>
<text class="b" x="5381" y="2464"><tspan>Gerbti</tspan><tspan x="5381" dy="21">rimtumą</tspan></text>
<text class="b" x="5475" y="2468"><tspan>Apsukti</tspan><tspan x="5475" dy="21">klausimą</tspan></text>
<text class="b" x="5583" y="2468"><tspan>Pripažinti</tspan><tspan x="5583" dy="21">šventraščio</tspan><tspan x="5583" dy="21">prieštaravimus</tspan></text>
<text class="b" x="5756" y="2464"><tspan>Būti</tspan><tspan x="5756" dy="21">tardomu</tspan></text>
<text class="b" x="5864" y="2463"><tspan>Požiūrių</tspan><tspan x="5864" dy="21">sugretinimas</tspan></text>
<text class="r" x="5868" y="2503"><tspan>Skirtumai tarp</tspan><tspan x="5868" dy="16">Andriaus ir Dievo</tspan><tspan x="5868" dy="16">ir tėvų ir žmonių</tspan></text>
<text class="u" x="5864" y="2554">su pašnekesiu</text>
<text class="m" x="5260" y="2632">Vis pasitikrinti</text>
<text class="r" x="5266" y="2650"><tspan>Kaip dalyvauti</tspan><tspan x="5266" dy="16">katalikų bažnyčioje</tspan></text>
<text class="u" x="5273" y="2685">su gerumu</text>
<text class="m" x="5000" y="2613"><tspan>Šventraščio</tspan><tspan x="5000" dy="28">pripažinimas</tspan></text>
<text class="r" x="5000" y="2658">Įsitraukimas</text>
<text class="u" x="5000" y="2680"><tspan>su savo</tspan><tspan x="5000" dy="21">primestom</tspan><tspan x="5000" dy="21">prielaidom</tspan></text>
<text class="b" x="5134" y="2892">Pralaukti</text>
<text class="r" x="5136" y="2912"><tspan>Supratau, kad</tspan><tspan x="5136" dy="16">išklimpau iš</tspan><tspan x="5136" dy="16">nykulio</tspan><tspan x="5130" dy="18">Supratau, kas trys</tspan><tspan x="5130" dy="16">mėnesiai atitokėju</tspan></text>
<text class="u" x="5137" y="3003">su ateitimi</text>
<text class="b" x="5280" y="2894">Sulaukti</text>
<text class="r" x="5274" y="2912"><tspan>Supratau</tspan><tspan x="5274" dy="16">Reginos</tspan><tspan x="5274" dy="16">kaltumą sau,</tspan><tspan x="5274" dy="16">kuris nebetrauke</tspan></text>
<text class="u" x="5282" y="2976"><tspan>su savo</tspan><tspan x="5282" dy="21">supratimu</tspan></text>
<text class="L" x="5406" y="2902" style="font-size:34px"><tspan>Įsitraukti į</tspan><tspan x="5406" dy="44">aplinkybes</tspan></text>
<text class="r" x="5436" y="2976"><tspan>Atskleisti savo</tspan><tspan x="5436" dy="16">žmoniškumą, silpnybes</tspan><tspan x="5436" dy="16">šnipinėjau skautas,</tspan><tspan x="5436" dy="16">trenkiau filosofui,</tspan><tspan x="5436" dy="16">gaujos, sausio 13ta</tspan></text>
<text class="u" x="5428" y="3066">su savo ribotumais</text>
<text class="L" x="5185" y="3137"><tspan>Vidinis pokalbis</tspan><tspan x="5185" dy="56">su artimaisiais</tspan></text>
<text class="r" x="5279" y="3238"><tspan>su tėvais, draugais:</tspan><tspan x="5279" dy="16">pragyvenimas,</tspan><tspan x="5279" dy="16">lietuvybė, dora</tspan></text>
<text class="u" x="5276" y="3291">su įsitikinimais</text>

<text class="b" x="3886" y="392"><tspan>Atrinkti, kas</tspan><tspan x="3886" dy="21">svarbiausia,</tspan><tspan x="3886" dy="21">kas viską aprėpia</tspan></text>
<text class="r" x="3912" y="455">Gyventi tiesa</text>
<text class="u" x="3896" y="478"><tspan>su savo</tspan><tspan x="3896" dy="21">išeities tašku</tspan></text>
<text class="b" x="4058" y="388"><tspan>Pokalbis</tspan><tspan x="4058" dy="21">su kitais</tspan></text>
<text class="r" x="4053" y="428">12 klausimų</text>
<text class="u" x="4055" y="452"><tspan>su kitais,</tspan><tspan x="4055" dy="21">kaip save</tspan><tspan x="4055" dy="21">supranta</tspan></text>
<text class="b" x="4210" y="388"><tspan>Klausimų,</tspan><tspan x="4210" dy="21">gvildenimų</tspan><tspan x="4210" dy="21">rinkimas</tspan></text>
<text class="r" x="4182" y="447"><tspan>Klausimo išsakymas</tspan><tspan x="4196" dy="15">Kaip kas auga</tspan></text>
<text class="u" x="4194" y="487"><tspan>su žmogaus</tspan><tspan x="4194" dy="21">gyvastimi</tspan></text>
<text class="b" x="4385" y="390"><tspan>Liudijimų</tspan><tspan x="4385" dy="21">vertinimas</tspan></text>
<text class="r" x="4375" y="427">Vertybių žemėlapis</text>
<text class="u" x="4390" y="449">su vertybe</text>
<text class="b" x="4544" y="388">Suvokti žmogaus silpnybę</text>
<text class="r" x="4592" y="412"><tspan>Kertinė vertybė</tspan><tspan x="4592" dy="16">būna ir silpna vieta.</tspan></text>
<text class="u" x="4600" y="453">su trikdžiais</text>
<text class="m" x="4015" y="550"><tspan>Veikiant,</tspan><tspan x="4015" dy="28">susirašinėjant</tspan><tspan x="4015" dy="28">atvirai</tspan></text>
<text class="r" x="4008" y="631"><tspan>Ryšys tarp įsižeidimo</tspan><tspan x="4008" dy="15">ir teisuoliškumo</tspan></text>
<text class="u" x="4003" y="670">su papildymais</text>
<text class="L" x="4314" y="555" style="font-size:44px"><tspan>Sandarų</tspan><tspan x="4314" dy="56">persakymas</tspan></text>
<text class="r" x="4390" y="643">Alexander, Toulmin</text>
<text class="u" x="4398" y="662">su mokslu</text>
<text class="m" x="4645" y="577"><tspan>Sukurti erdvę</tspan><tspan x="4645" dy="28">atvirai veiklai</tspan></text>
<text class="r" x="4624" y="637">Stebėti žmonių brandą.</text>
<text class="u" x="4636" y="656">su nuostatomis</text>
<text class="b" x="3848" y="1042"><tspan>Išeiti iš savo</tspan><tspan x="3848" dy="21">patogaus</tspan><tspan x="3848" dy="21">pasaulio</tspan></text>
<text class="r" x="3842" y="1100"><tspan>Juodųjų pasaulis,</tspan><tspan x="3842" dy="15">sunkumai, prasmė</tspan><tspan x="3842" dy="15">Universitetas</tspan></text>
<text class="u" x="3836" y="1152">su pasitikrinimu</text>
<text class="L" x="4550" y="1168"><tspan>Įkvėptas Jėzaus</tspan><tspan x="4550" dy="56">minčių</tspan></text>
<text class="m" x="4925" y="1138"><tspan>Nors kiek</tspan><tspan x="4925" dy="28">paprieštarauti</tspan><tspan x="4925" dy="28">santvarkai</tspan></text>
<text class="r" x="4913" y="1216"><tspan>atsiliepiau į pažeidimus, balsuoja</tspan><tspan x="4913" dy="16">Include premija</tspan><tspan x="4913" dy="16">knygnešystė</tspan><tspan x="4913" dy="16">blaivybė</tspan><tspan x="4913" dy="16">perėjimas per juodųjų kvartalą</tspan></text>
<text class="u" x="4920" y="1307">su teisybe</text>
<text class="m" x="3380" y="1327"><tspan>Nuoširdus</tspan><tspan x="3380" dy="28">bendravimas</tspan></text>
<text class="u" x="3380" y="1432"><tspan>su kitais,</tspan><tspan x="3380" dy="21">kaip su lygiaiverčiais,</tspan><tspan x="3380" dy="21">vienas su kitu</tspan></text>
<text class="m" x="3595" y="1350">Kviesti visus</text>
<text class="r" x="3596" y="1373">Kas domisi</text>
<text class="u" x="3577" y="1396">su Dievo valia</text>
<text class="m" x="3780" y="1340"><tspan>Laiduoti</tspan><tspan x="3780" dy="28">savo</tspan><tspan x="3780" dy="28">gyvenimu</tspan></text>
<text class="r" x="3774" y="1420">Neišnaudoti kitų</text>
<text class="u" x="3777" y="1440">su savo dora</text>
<text class="L" x="3675" y="1658">Tikėti Dievą</text>
<text class="r" x="3684" y="1679"><tspan>Išeiti už savo ribų</tspan><tspan x="3684" dy="16">geros valios pratimuose,</tspan><tspan x="3684" dy="16">gyvent ant klausiuko</tspan></text>
<text class="u" x="3698" y="1730">su nepatyrimu</text>
<text class="L" x="3975" y="1654" style="font-size:42px">su Dievu pasitikrinti</text>
<text class="r" x="3982" y="1685">Ar jis leidžia vienaip ar kitaip elgtis</text>
<text class="u" x="3993" y="1706">su nesavanaudiškumu</text>
<text class="L" x="4468" y="1654" style="font-size:42px"><tspan>Susivokimas</tspan><tspan x="4468" dy="54">iš veiklos</tspan></text>
<text class="r" x="4470" y="1737"><tspan>Širdis klysta</tspan><tspan x="4470" dy="16">Kam neramintl</tspan><tspan x="4470" dy="16">Nenoras pasišvęsti</tspan><tspan x="4470" dy="16">šviesuolių kultūrai</tspan></text>
<text class="u" x="4478" y="1805">su gyvenimu</text>
<text class="L" x="4884" y="1578"><tspan>Kito požiūrio</tspan><tspan x="4884" dy="56">priėmimas</tspan></text>
<text class="r" x="4938" y="1654"><tspan>Dievo požiūris -</tspan><tspan x="4938" dy="16">visko padalinimai</tspan><tspan x="4938" dy="20">Kristaus požiūris -</tspan><tspan x="4938" dy="16">mylėti priešą</tspan><tspan x="4938" dy="16">tėvų požiūris -</tspan><tspan x="4938" dy="16">lietuvybė</tspan><tspan x="4938" dy="20">bendraamžių požiūris -</tspan><tspan x="4938" dy="16">šaunumas</tspan></text>
<text class="u" x="4942" y="1800"><tspan>su kitų</tspan><tspan x="4942" dy="21">iškrimtimi</tspan></text>
<text class="b" x="4425" y="1424"><tspan>Priimti priešo</tspan><tspan x="4425" dy="21">požiūrį</tspan></text>
<text class="r" x="4400" y="1462">Suvokti, ko jisai nori</text>
<text class="u" x="4410" y="1483">su atkirstuoju</text>
<text class="b" x="3582" y="1747"><tspan>Asmens</tspan><tspan x="3582" dy="21">jausmų</tspan><tspan x="3582" dy="21">atsvėrimas</tspan></text>
<text class="b" x="3768" y="1757"><tspan>Atvejų</tspan><tspan x="3768" dy="21">rinkimas</tspan></text>
<text class="m" x="4240" y="1802"><tspan>Sandaros</tspan><tspan x="4240" dy="28">ieškojimas</tspan></text>

<text class="b" x="4990" y="932"><tspan>Užmojų vertinimas,</tspan><tspan x="4990" dy="21">kuris kurį palaiko</tspan></text>
<text class="r" x="5010" y="972">Užmojų žemėlapis</text>
<text class="u" x="5035" y="992">su jėga</text>
<text class="b" x="5172" y="930">Užmojų rinkimas</text>
<text class="r" x="5197" y="948">Užmojų ryšiai</text>
<text class="u" x="5197" y="967">su siekiais</text>
<text class="b" x="5343" y="930"><tspan>Kertinių užmojų</tspan><tspan x="5343" dy="21">atrinkimas</tspan></text>
<text class="r" x="5333" y="968">Kur telkti, skirti jėgas</text>
<text class="u" x="5344" y="993">su našumu</text>
<text class="m" x="5219" y="1207"><tspan>Laikytis</tspan><tspan x="5219" dy="28">teisybės</tspan></text>
<text class="r" x="5200" y="1248"><tspan>Suprantu teisuolius,</tspan><tspan x="5200" dy="16">nuskriaustuosius</tspan><tspan x="5230" dy="20">Pavyko</tspan><tspan x="5230" dy="16">dėrėtis</tspan><tspan x="5230" dy="16">su KGB.</tspan></text>
<text class="u" x="5212" y="1332">su pasauliu</text>
<text class="b" x="5633" y="1235">Išklausinėti</text>
<text class="r" x="5604" y="1253"><tspan>Ar pardavėjas patikimas</tspan><tspan x="5604" dy="16">ir ką naudingo patars</tspan></text>
<text class="u" x="5638" y="1295">su patarėju</text>
<text class="b" x="5824" y="1232">Naivumas</text>
<text class="r" x="5812" y="1247">Visada rasiu darbą</text>
<text class="u" x="5788" y="1261">su savo prielaidomis</text>
<text class="b" x="5989" y="1227"><tspan>Papildyti</tspan><tspan x="5989" dy="21">prasme</tspan></text>
<text class="r" x="5990" y="1266"><tspan>Mokiau Deborytę,</tspan><tspan x="5990" dy="16">susipykome,</tspan><tspan x="5990" dy="16">prisiminiau</tspan><tspan x="5990" dy="16">Ivy League Tutoring</tspan></text>
<text class="u" x="5991" y="1336">su prasme</text>
<text class="b" x="6176" y="1224"><tspan>Didinti</tspan><tspan x="6176" dy="21">Dievo</tspan><tspan x="6176" dy="21">galimybes</tspan></text>
<text class="r" x="6156" y="1288"><tspan>Įvairiai, ketveropai</tspan><tspan x="6160" dy="15">ieškoti darbo</tspan></text>
<text class="u" x="6158" y="1323">su Dievo valia</text>
<text class="b" x="6363" y="1222"><tspan>Įsidėmėti,</tspan><tspan x="6363" dy="21">kas kitiems</tspan><tspan x="6363" dy="21">įdomu</tspan></text>
<text class="r" x="6348" y="1281"><tspan>Rasti dalyvių</tspan><tspan x="6348" dy="16">Ieškoti darbo, rinkų</tspan></text>
<text class="u" x="6338" y="1318">su kitų dėmesiu</text>
<text class="b" x="6552" y="1224"><tspan>Atsarginė</tspan><tspan x="6552" dy="21">galimybė</tspan></text>
<text class="r" x="6530" y="1262">Jei kas, rasiu darbą</text>
<text class="u" x="6538" y="1282">su palaikymu</text>
<text class="m" x="6685" y="1226"><tspan>Įsivaizduoti</tspan><tspan x="6685" dy="28">Dievo</tspan><tspan x="6685" dy="28">atsakomybę</tspan></text>
<text class="L" x="6095" y="1424" style="font-size:34px"><tspan>Visus sprendimus</tspan><tspan x="6095" dy="42">išbandyti</tspan></text>
<text class="r" x="6070" y="1498"><tspan>Bandyti skolas atmokėti</tspan><tspan x="6070" dy="15">Siekti mylimosios</tspan><tspan x="6070" dy="15">Išsaugoti David'o namus</tspan><tspan x="6070" dy="15">Įtvirtinti savo įmonę</tspan></text>
<text class="u" x="6074" y="1561">su neįmanomumu</text>
<text class="b" x="5350" y="1600"><tspan>Pačiam</tspan><tspan x="5350" dy="21">susižinoti,</tspan><tspan x="5350" dy="21">ištirti</tspan></text>
<text class="r" x="5310" y="1654"><tspan>Mokiausi Lietuvoje 1988m.,</tspan><tspan x="5310" dy="15">stebėjau Sąjūdžio veiklą.</tspan><tspan x="5310" dy="15">Išvažinėjau Europą 1989m.,</tspan><tspan x="5310" dy="15">visaip ieškojau užsakovų</tspan><tspan x="5310" dy="15">Minčių sodui.</tspan></text>
<text class="u" x="5300" y="1740">su varžymų ribomis</text>
<text class="b" x="5541" y="1612"><tspan>Mąstymas</tspan><tspan x="5541" dy="21">atjauta</tspan></text>
<text class="r" x="5507" y="1654"><tspan>Savižudybė, silpnybės,</tspan><tspan x="5507" dy="15">švietimas, sveikatos sistema,</tspan><tspan x="5507" dy="15">lytinio gyvenimo tikslingumas</tspan></text>
<text class="u" x="5519" y="1711">su žmogaus dalia</text>
<text class="m" x="5727" y="1602"><tspan>Įsipareigoti,</tspan><tspan x="5727" dy="28">priimti pareigas</tspan></text>
<text class="r" x="5724" y="1644"><tspan>Įstojau į chorą,</tspan><tspan x="5724" dy="15">tapau skautų vadovu.</tspan><tspan x="5724" dy="15">Užupyje surengiau parodą,</tspan><tspan x="5724" dy="15">labiau susipažinau su</tspan><tspan x="5724" dy="15">savo galimybėmis</tspan></text>
<text class="u" x="5724" y="1726">su galimybėmis</text>
</g>

<g transform="scale(4.3527)">
<defs>
<marker id="h" markerUnits="userSpaceOnUse" markerWidth="30" markerHeight="26" viewBox="-26 -13 28 26" refX="0" refY="0" orient="auto">
<path d="M1,0 L-25,-11 L-19,0 L-25,11 Z" fill="#000"/>
</marker>
</defs>
<g fill="#ff0">
<rect x="594" y="0" width="211" height="22.5"/>
<rect x="232" y="21" width="131" height="24"/>
<rect x="822" y="55" width="375" height="28"/>
<rect x="265" y="99" width="236" height="26"/>
<rect x="601" y="130" width="159" height="27"/>
<rect x="73" y="168" width="242" height="28"/>
<rect x="1145" y="177" width="125" height="26"/>
<rect x="866" y="202" width="178" height="27"/>
<rect x="418" y="253" width="267" height="27"/>
<rect x="1325" y="245" width="141" height="26"/>
<rect x="995" y="290" width="99" height="27"/>
<rect x="1215" y="336" width="155" height="27"/>
<rect x="565" y="358" width="208" height="26"/>
<rect x="116" y="384" width="187" height="27"/>
<rect x="1392" y="418" width="166" height="27"/>
<rect x="964" y="441" width="186" height="27"/>
<rect x="693" y="476" width="252" height="26"/>
<rect x="342" y="489" width="187" height="27"/>
<rect x="1117" y="527" width="146" height="27"/>
<rect x="1308" y="615" width="86" height="26"/>
<rect x="1032" y="630" width="120" height="27"/>
<rect x="296" y="665" width="284" height="27"/>
<rect x="849" y="682" width="97" height="26"/>
<rect x="554" y="713" width="185" height="27"/>
<rect x="214" y="761" width="102" height="27"/>
<rect x="576" y="762" width="91" height="27"/>
</g>
<g fill="#000" style="font-style:italic;font-size:19.5px">
<text x="595" y="17" textLength="208" lengthAdjust="spacingAndGlyphs">Dangaus karalystė</text>
<text x="233" y="39" textLength="128" lengthAdjust="spacingAndGlyphs">Išsiaiškinimai</text>
<text x="823" y="77" textLength="372" lengthAdjust="spacingAndGlyphs">Šviesuolių branda, kelias, 12 klausimų</text>
<text x="266" y="119" textLength="233" lengthAdjust="spacingAndGlyphs">Roda "Trokštu išmanyti"</text>
<text x="602" y="151" textLength="156" lengthAdjust="spacingAndGlyphs">Menas ir kūryba</text>
<text x="74" y="190" textLength="240" lengthAdjust="spacingAndGlyphs">Sandaros: Dievo požiūris</text>
<text x="1146" y="197" textLength="122" lengthAdjust="spacingAndGlyphs">Minčių sodas</text>
<text x="867" y="223" textLength="176" lengthAdjust="spacingAndGlyphs">Juodųjų bendrystė</text>
<text x="419" y="274" textLength="265" lengthAdjust="spacingAndGlyphs">Melstis, bendrauti su Dievu</text>
<text x="1326" y="265" textLength="139" lengthAdjust="spacingAndGlyphs">Pragyvenimas</text>
<text x="996" y="311" textLength="97" lengthAdjust="spacingAndGlyphs">Taiki kova</text>
<text x="1216" y="357" textLength="153" lengthAdjust="spacingAndGlyphs">Politika, Sąjūdis</text>
<text x="566" y="378" textLength="206" lengthAdjust="spacingAndGlyphs">Geros valios pratimai</text>
<text x="117" y="405" textLength="185" lengthAdjust="spacingAndGlyphs">Sandaros: Pirminės</text>
<text x="1393" y="439" textLength="164" lengthAdjust="spacingAndGlyphs">Santykiai su gimine</text>
<text x="965" y="462" textLength="184" lengthAdjust="spacingAndGlyphs">Santykiai su tėvais</text>
<text x="694" y="496" textLength="250" lengthAdjust="spacingAndGlyphs">Draugystės, bendravimas</text>
<text x="343" y="510" textLength="185" lengthAdjust="spacingAndGlyphs">Sandaros: Antrinės</text>
<text x="1118" y="548" textLength="144" lengthAdjust="spacingAndGlyphs">Tikėjimas, Kristus</text>
<text x="1309" y="635" textLength="84" lengthAdjust="spacingAndGlyphs">Blaivybė</text>
<text x="1033" y="651" textLength="118" lengthAdjust="spacingAndGlyphs">Įsimylėjimas</text>
<text x="297" y="686" textLength="282" lengthAdjust="spacingAndGlyphs">Viską žinoti, dėrėtis su Dievu</text>
<text x="850" y="702" textLength="95" lengthAdjust="spacingAndGlyphs">Lietuvybė</text>
<text x="555" y="734" textLength="183" lengthAdjust="spacingAndGlyphs">Santykiai su šeima</text>
<text x="215" y="782" textLength="100" lengthAdjust="spacingAndGlyphs">Savišvieta</text>
<text x="577" y="783" textLength="89" lengthAdjust="spacingAndGlyphs">Saviugda</text>
</g>
<g stroke="#000" stroke-width="2.7" fill="none" marker-end="url(#h)">
<line x1="383" y1="26" x2="584" y2="10"/>
<line x1="491" y1="93" x2="584" y2="42"/>
<line x1="533" y1="245" x2="617" y2="52"/>
<line x1="957" y1="51" x2="791" y2="24"/>
<line x1="961" y1="186" x2="812" y2="55"/>
<line x1="183" y1="158" x2="245" y2="74"/>
<line x1="209" y1="158" x2="327" y2="129"/>
<line x1="595" y1="146" x2="518" y2="121"/>
<line x1="1133" y1="186" x2="770" y2="147"/>
<line x1="1366" y1="236" x2="1286" y2="211"/>
<line x1="1255" y1="324" x2="1217" y2="240"/>
<line x1="1238" y1="326" x2="1059" y2="221"/>
<line x1="1179" y1="511" x2="1184" y2="258"/>
<line x1="907" y1="672" x2="1190" y2="235"/>
<line x1="1036" y1="281" x2="985" y2="240"/>
<line x1="776" y1="356" x2="1136" y2="206"/>
<line x1="895" y1="668" x2="747" y2="169"/>
<line x1="896" y1="500" x2="926" y2="275"/>
<line x1="321" y1="397" x2="558" y2="374"/>
<line x1="256" y1="372" x2="433" y2="294"/>
<line x1="208" y1="373" x2="189" y2="249"/>
<line x1="658" y1="350" x2="635" y2="293"/>
<line x1="1108" y1="543" x2="352" y2="406"/>
<line x1="538" y1="502" x2="680" y2="495"/>
<line x1="538" y1="493" x2="956" y2="447"/>
<line x1="422" y1="651" x2="422" y2="560"/>
<line x1="588" y1="672" x2="1036" y2="544"/>
<line x1="270" y1="754" x2="390" y2="731"/>
<line x1="951" y1="675" x2="1467" y2="452"/>
<line x1="705" y1="778" x2="1352" y2="647"/>
<line x1="701" y1="776" x2="996" y2="703"/>
<line x1="680" y1="778" x2="868" y2="717"/>
<line x1="692" y1="764" x2="991" y2="492"/>
<line x1="700" y1="760" x2="1018" y2="587"/>
<line x1="570" y1="759" x2="497" y2="730"/>
<line x1="628" y1="758" x2="630" y2="738"/>
<line x1="1169" y1="503" x2="1106" y2="330"/>
<line x1="1228" y1="505" x2="1261" y2="408"/>
<line x1="1241" y1="503" x2="1410" y2="334"/>
<line x1="927" y1="669" x2="1237" y2="417"/>
<line x1="1190" y1="165" x2="1066" y2="120"/>
<line x1="813" y1="472" x2="790" y2="457"/>
<line x1="386" y1="483" x2="248" y2="458"/>
</g>
</g>
</svg>
</body></html>
